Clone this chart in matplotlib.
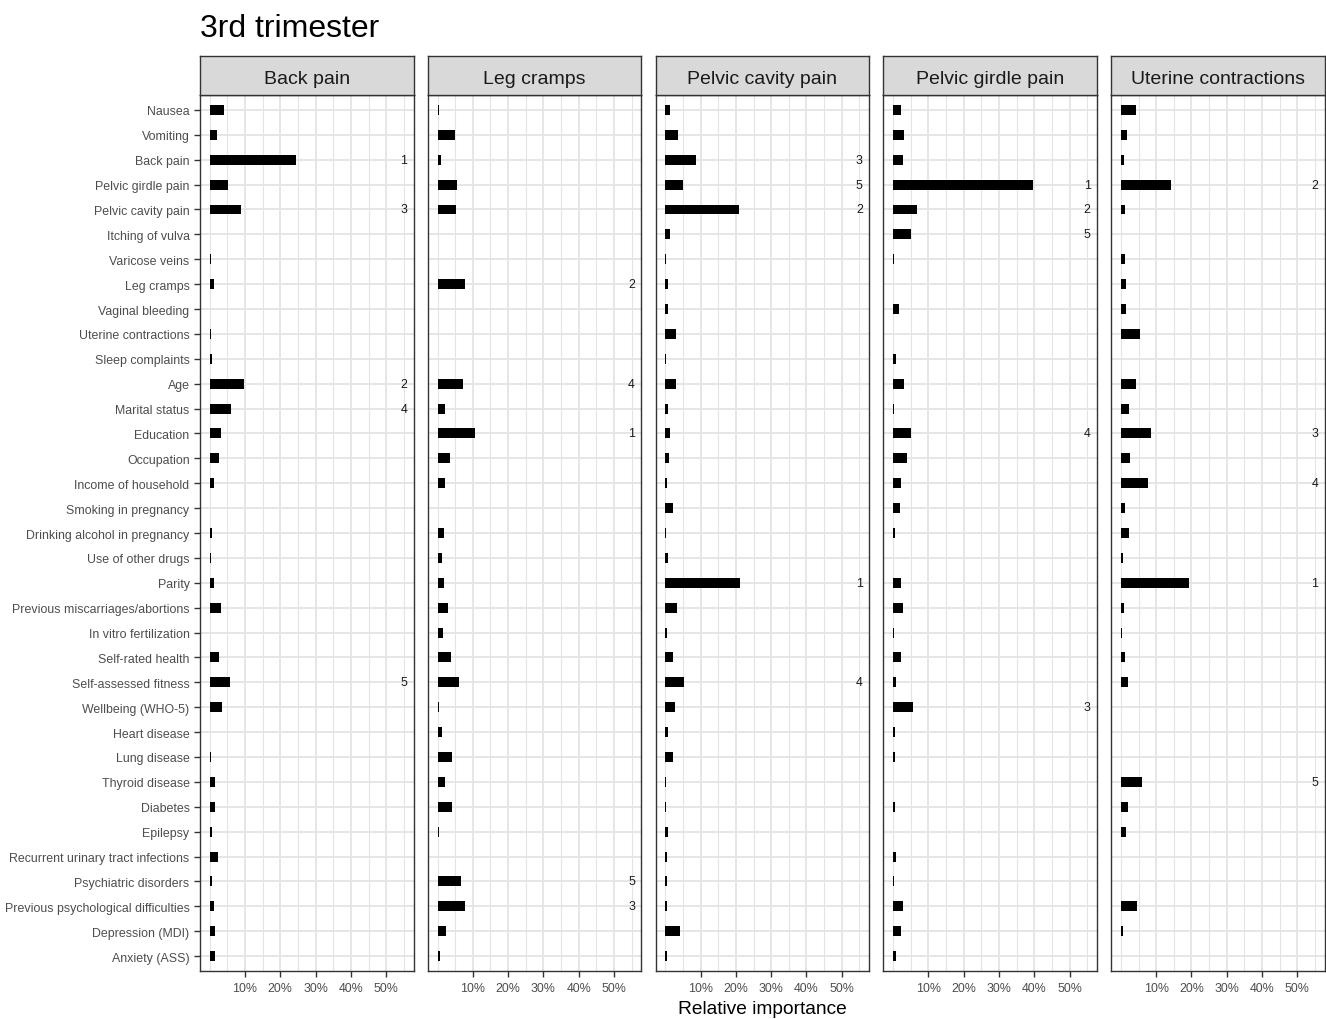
import numpy as np
import matplotlib.pyplot as plt
from matplotlib.ticker import FixedLocator, FuncFormatter

plt.rcParams['font.family'] = ['Liberation Sans', 'DejaVu Sans']

predictors = [
    "Nausea", "Vomiting", "Back pain", "Pelvic girdle pain", "Pelvic cavity pain",
    "Itching of vulva", "Varicose veins", "Leg cramps", "Vaginal bleeding",
    "Uterine contractions", "Sleep complaints", "Age", "Marital status",
    "Education", "Occupation", "Income of household", "Smoking in pregnancy",
    "Drinking alcohol in pregnancy", "Use of other drugs", "Parity",
    "Previous miscarriages/abortions", "In vitro fertilization",
    "Self-rated health", "Self-assessed fitness", "Wellbeing (WHO-5)",
    "Heart disease", "Lung disease", "Thyroid disease", "Diabetes", "Epilepsy",
    "Recurrent urinary tract infections", "Psychiatric disorders",
    "Previous psychological difficulties", "Depression (MDI)", "Anxiety (ASS)",
]

outcomes = ["Back pain", "Leg cramps", "Pelvic cavity pain",
            "Pelvic girdle pain", "Uterine contractions"]

# Relative importance (%) of each predictor, one list per outcome
back_pain = [4.0, 2.1, 24.4, 5.2, 9.0, 0.0, 0.3, 1.3, 0.0, 0.3, 0.7, 9.7, 6.1,
             3.2, 2.5, 1.1, 0.0, 0.7, 0.4, 1.1, 3.2, 0.2, 2.7, 5.7, 3.6, 0.2,
             0.3, 1.6, 1.4, 0.75, 2.3, 0.7, 1.1, 1.4, 1.6]
leg_cramps = [0.4, 4.9, 1.05, 5.4, 5.1, 0.2, 0.2, 7.8, 0.2, 0.2, 0.2, 7.2, 2.0,
              10.5, 3.6, 2.2, 0.2, 1.7, 1.3, 1.9, 3.1, 1.5, 3.7, 6.0, 0.4, 1.3,
              4.2, 2.2, 4.1, 0.3, 0.2, 6.6, 7.7, 2.5, 0.6]
pelvic_cavity_pain = [1.2, 3.6, 8.7, 4.9, 21.0, 1.4, 0.1, 0.8, 0.8, 3.0, 0.3,
                      3.0, 0.9, 1.3, 1.0, 0.4, 2.3, 0.1, 0.8, 21.3, 3.3, 0.4,
                      2.3, 5.3, 2.8, 0.7, 2.1, 0.1, 0.1, 0.7, 0.4, 0.4, 0.5,
                      4.1, 0.6]
pelvic_girdle_pain = [2.3, 3.1, 2.7, 39.6, 6.8, 5.0, 0.3, 0.0, 1.7, 0.0, 0.9,
                      3.1, 0.3, 5.2, 3.8, 2.3, 1.9, 0.5, 0.0, 2.3, 2.7, 0.3,
                      2.1, 0.7, 5.7, 0.5, 0.6, 0.0, 0.4, 0.0, 0.8, 0.3, 2.7,
                      2.1, 0.8]
uterine_contractions = [4.4, 1.7, 0.8, 14.1, 1.2, 0.0, 1.2, 1.5, 1.5, 5.4, 0.1,
                        4.3, 2.3, 8.4, 2.6, 7.7, 1.2, 2.2, 0.6, 19.3, 1.0, 0.3,
                        1.2, 2.1, 0.1, 0.1, 0.1, 6.1, 1.9, 1.4, 0.05, 0.1, 4.6,
                        0.5, 0.05]

series = [back_pain, leg_cramps, pelvic_cavity_pain, pelvic_girdle_pain,
          uterine_contractions]

W, H = 1326, 1020
fig = plt.figure(figsize=(W / 100, H / 100), dpi=100)
fig.patch.set_facecolor('white')

panel_left = [200 + 227.8 * i for i in range(5)]
panel_w = 213.5
panel_top, panel_bot = 96, 972
strip_top = 57

grid_col = '#e4e4e4'
frame_col = '#333333'
tick_col = '#4d4d4d'
y = np.arange(len(predictors))

for i, (name, vals) in enumerate(zip(outcomes, series)):
    vals = np.asarray(vals, dtype=float)
    ax = fig.add_axes([panel_left[i] / W, (H - panel_bot) / H,
                       panel_w / W, (panel_bot - panel_top) / H])
    ax.barh(y, vals, height=0.4, color='black', linewidth=0, zorder=3)
    ax.set_xlim(-2.75, 57.75)
    ax.set_ylim(len(predictors) - 0.4, -0.6)

    ax.xaxis.set_major_locator(FixedLocator([10, 20, 30, 40, 50]))
    ax.xaxis.set_minor_locator(FixedLocator([0, 5, 15, 25, 35, 45, 55]))
    ax.xaxis.set_major_formatter(FuncFormatter(lambda v, p: f"{int(v)}%"))
    ax.set_yticks(y)
    ax.grid(which='major', axis='x', color=grid_col, lw=1.3, zorder=0)
    ax.grid(which='minor', axis='x', color=grid_col, lw=0.8, zorder=0)
    ax.grid(which='major', axis='y', color=grid_col, lw=1.3, zorder=0)
    ax.set_axisbelow(True)

    ax.tick_params(axis='x', which='major', length=4, width=1.0,
                   color=frame_col, labelsize=8.9, labelcolor=tick_col, pad=4)
    ax.tick_params(axis='x', which='minor', length=0)
    if i == 0:
        ax.set_yticklabels(predictors)
        ax.tick_params(axis='y', length=4.5, width=1.0, color=frame_col,
                       labelsize=8.9, labelcolor=tick_col, pad=3)
    else:
        ax.set_yticklabels([])
        ax.tick_params(axis='y', length=0)

    for sp in ax.spines.values():
        sp.set_color(frame_col)
        sp.set_linewidth(1.0)

    # rank labels for the five most important predictors
    order = np.argsort(-vals, kind='stable')[:5]
    for r, idx in enumerate(order):
        ax.text(55, idx, str(r + 1), ha='center', va='center',
                fontsize=8.9, color='#1a1a1a', zorder=4)

    # facet strip
    sax = fig.add_axes([panel_left[i] / W, (H - panel_top) / H,
                        panel_w / W, (panel_top - strip_top) / H])
    sax.set_facecolor('#d9d9d9')
    sax.set_xticks([])
    sax.set_yticks([])
    for sp in sax.spines.values():
        sp.set_color(frame_col)
        sp.set_linewidth(1.0)
    sax.text(0.5, 0.48, name, ha='center', va='center_baseline', fontsize=14,
             color='#1a1a1a', transform=sax.transAxes)

fig.text(200 / W, 1 - 37 / H, "3rd trimester", fontsize=23,
         va='baseline', ha='left', color='black')
fig.text((panel_left[2] + panel_w / 2) / W, 1 - 1010 / H,
         "Relative importance", ha='center', va='center', fontsize=13.8,
         color='black')

fig.savefig('out.png', dpi=100, facecolor='white')
